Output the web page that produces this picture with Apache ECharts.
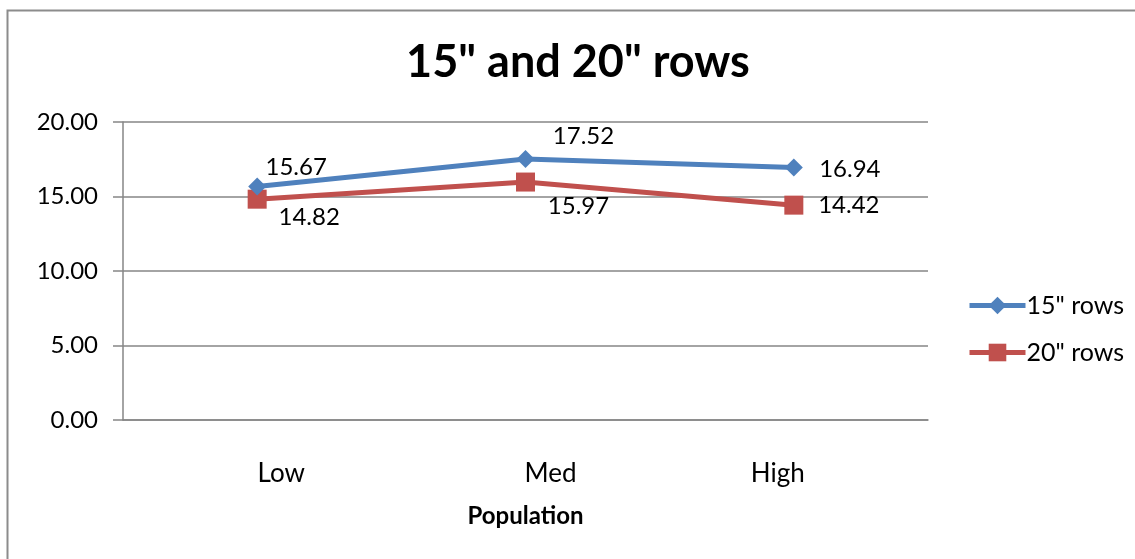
<!DOCTYPE html>
<html>
<head>
    <meta charset="utf-8">
    <title>15" and 20" rows</title>
    <style type="text/css">
        body {
            margin: 0;
        }
        html, body, #chart {
            width: 1135px;
            height: 559px;
        }
    </style>
</head>
<body>

    <div id="chart"></div>
    <script src="https://cdn.jsdelivr.net/npm/echarts@6/dist/echarts.min.js"></script>

    <script>
        var categories = ['Low', 'Med', 'High'];
        var rows15 = [15.67, 17.52, 16.94];
        var rows20 = [14.82, 15.97, 14.42];
        var seriesNames = ['15" rows', '20" rows'];

        // where each value label sits relative to its marker
        var offsets15 = [[39, -19], [58, -23], [56, 2]];
        var offsets20 = [[52, 18], [53, 24], [55, 0]];
        // the category labels are not quite centred under their points
        var catPadding = [[0, 0, 0, 48], [0, 0, 0, 50], [0, 32, 0, 0]];

        var font = 'Lato, "Open Sans", sans-serif';

        function withLabels(values, offsets) {
            return values.map(function (v, i) {
                return { value: v, label: { offset: offsets[i] } };
            });
        }

        var chart = echarts.init(document.getElementById('chart'));

        chart.setOption({
            animation: false,
            textStyle: { fontFamily: font },
            title: {
                text: '15" and 20" rows',
                left: 573,
                textAlign: 'center',
                top: 35,
                textStyle: {
                    fontFamily: font,
                    fontSize: 45,
                    fontWeight: 'bold',
                    color: '#000'
                }
            },
            graphic: [{
                type: 'rect',
                shape: { x: 7.5, y: 10.5, width: 1200, height: 600 },
                style: { fill: 'none', stroke: '#8c8c8c', lineWidth: 2 },
                silent: true
            }],
            legend: {
                orient: 'vertical',
                left: 962,
                top: 288,
                itemGap: 22,
                itemWidth: 56,
                itemHeight: 22,
                lineStyle: { width: 5 },
                textStyle: { fontFamily: font, fontSize: 25, color: '#000', padding: [0, 0, 0, -4] },
                data: seriesNames
            },
            grid: {
                left: 123,
                right: 207,
                top: 122,
                bottom: 139
            },
            xAxis: {
                type: 'category',
                data: categories.map(function (c, i) {
                    return { value: c, textStyle: { padding: catPadding[i] } };
                }),
                boundaryGap: true,
                name: 'Population',
                nameLocation: 'middle',
                nameGap: 84,
                nameTextStyle: { fontFamily: font, fontSize: 24, fontWeight: 'bold', color: '#000' },
                axisLine: { lineStyle: { color: '#868686', width: 1.5 } },
                axisTick: { show: false },
                axisLabel: { margin: 41, fontSize: 26, color: '#000', fontFamily: font }
            },
            yAxis: {
                type: 'value',
                min: 0,
                max: 20,
                interval: 5,
                axisLine: { show: true, lineStyle: { color: '#868686', width: 1.5 } },
                axisTick: { show: true, length: 10, lineStyle: { color: '#868686', width: 1.5 } },
                axisLabel: {
                    margin: 25,
                    fontSize: 24,
                    color: '#000',
                    fontFamily: font,
                    formatter: function (v) { return v.toFixed(2); }
                },
                splitLine: { lineStyle: { color: '#868686', width: 1.5 } }
            },
            series: [{
                name: seriesNames[0],
                type: 'line',
                data: withLabels(rows15, offsets15),
                symbol: 'diamond',
                symbolSize: 18,
                color: '#4F81BD',
                lineStyle: { width: 5, color: '#4F81BD' },
                itemStyle: { color: '#4F81BD' },
                label: {
                    show: true,
                    position: 'inside',
                    fontSize: 24,
                    color: '#000',
                    fontFamily: font,
                    formatter: function (p) { return p.value.toFixed(2); }
                },
                z: 3
            }, {
                name: seriesNames[1],
                type: 'line',
                data: withLabels(rows20, offsets20),
                symbol: 'rect',
                symbolSize: 19,
                color: '#C0504D',
                lineStyle: { width: 5, color: '#C0504D' },
                itemStyle: { color: '#C0504D' },
                label: {
                    show: true,
                    position: 'inside',
                    fontSize: 24,
                    color: '#000',
                    fontFamily: font,
                    formatter: function (p) { return p.value.toFixed(2); }
                },
                z: 2
            }]
        });

        window.addEventListener('resize', function () {
            chart.resize();
        });
    </script>
</body>
</html>
